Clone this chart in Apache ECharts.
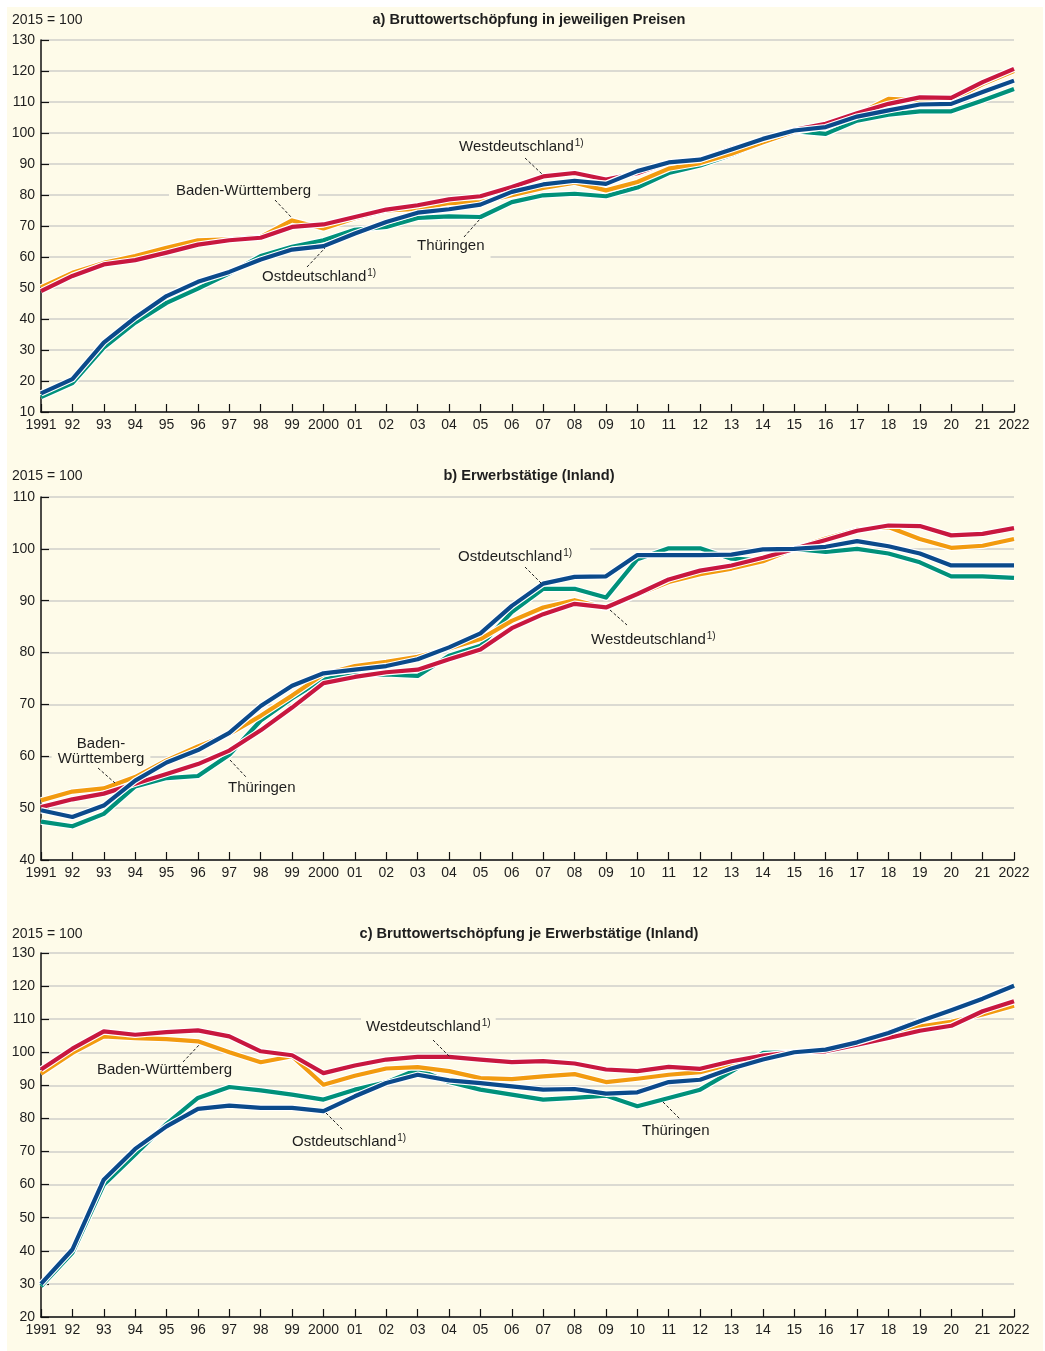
<!DOCTYPE html>
<html>
<head>
<meta charset="utf-8">
<script src="https://cdn.jsdelivr.net/npm/echarts@6/dist/echarts.min.js"></script>
<style>
  html, body { margin: 0; background: #fff; }
  #chart { width: 1045px; height: 1351px; }
</style>
</head>
<body>
<div id="chart"></div>
<script>
// x-axis categories
const years = ["1991", "92", "93", "94", "95", "96", "97", "98", "99", "2000",
  "01", "02", "03", "04", "05", "06", "07", "08", "09", "10",
  "11", "12", "13", "14", "15", "16", "17", "18", "19", "20", "21", "2022"];

// a) Bruttowertschöpfung in jeweiligen Preisen
const westA = [49, 53.9, 57.6, 59, 61.4, 64, 65.4, 66.2, 69.7, 70.5, 72.9, 75.3, 76.7, 78.6, 79.6, 82.6,
  86, 87.1, 85, 87, 90.6, 91.5, 95, 98, 101, 103, 106.4, 109.4, 111.5, 111.3, 116.4, 120.7];
const bwA = [50.2, 54.9, 58.1, 60.3, 63, 65.4, 65.7, 66.5, 71.8, 69.2, 72.5, 75, 75.5, 77.4, 77.7, 79.9,
  82.3, 84, 81.5, 84.2, 88.5, 90.3, 93.3, 97, 100.5, 102, 106, 111, 110.5, 110.5, 115.8, 120];
const ostA = [16, 20.6, 32.4, 40.4, 47.4, 52, 55.2, 59.2, 62.4, 63.5, 67.6, 71.3, 74.3, 75.4, 76.9, 81,
  83.4, 84.6, 83.6, 87.7, 90.5, 91.4, 94.7, 98.1, 100.8, 101.9, 105.3, 107.3, 109.2, 109.4, 113.2, 116.9];
const thuA = [14.8, 19.3, 30.8, 38.8, 45.2, 49.8, 54.7, 60.3, 63.3, 65.4, 68.8, 69.7, 72.6, 73.1, 72.9, 77.7,
  79.9, 80.4, 79.6, 82.4, 87.1, 89.5, 93, 97, 100.6, 99.7, 104, 105.9, 107, 107, 110.5, 114.2];

// b) Erwerbstätige (Inland)
const westB = [50.2, 51.7, 52.8, 54.7, 56.6, 58.5, 61.1, 65, 69.4, 74.1, 75.3, 76.2, 76.7, 78.7, 80.6, 84.7,
  87.4, 89.4, 88.7, 91.3, 94.1, 95.8, 96.8, 98.3, 100, 101.7, 103.5, 104.5, 104.4, 102.6, 102.9, 104];
const bwB = [51.5, 53.2, 53.8, 56, 59.2, 61.9, 64.3, 67.8, 71.7, 75.8, 77.4, 78.2, 79.2, 80.8, 82.6, 86.1,
  88.7, 90.1, 88.6, 91.2, 93.6, 95.1, 96.2, 97.6, 100, 102, 103.7, 104.2, 101.9, 100.2, 100.6, 101.9];
const ostB = [49.6, 48.3, 50.5, 55.3, 58.8, 61.2, 64.5, 69.7, 73.6, 76, 76.7, 77.4, 78.7, 81, 83.7, 89,
  93.3, 94.6, 94.7, 98.8, 98.8, 98.8, 98.9, 99.9, 100, 100.4, 101.5, 100.5, 99.1, 96.8, 96.8, 96.8];
const thuB = [47.4, 46.5, 48.9, 54.2, 55.8, 56.2, 60.3, 66.9, 71.2, 74.9, 75.6, 75.8, 75.5, 79.4, 81.3, 87.8,
  92.3, 92.3, 90.6, 98, 100.1, 100.1, 98.1, 97.8, 100, 99.4, 100, 99.1, 97.4, 94.7, 94.7, 94.4];

// c) Bruttowertschöpfung je Erwerbstätige (Inland)
const westC = [94.8, 101.1, 106.3, 105.3, 106.1, 106.6, 104.8, 100.3, 99.1, 93.7, 96, 97.8, 98.6, 98.6, 97.8, 97,
  97.3, 96.6, 94.8, 94.3, 95.6, 95, 97.3, 99, 100, 100.3, 102.3, 104.3, 106.5, 108, 112.4, 115.4];
const bwC = [93.5, 99.8, 104.8, 104.3, 104, 103.3, 100, 97, 98.8, 90.2, 92.9, 95.1, 95.5, 94.3, 92.2, 91.9,
  92.7, 93.4, 91, 92, 93.2, 94, 96.5, 98.8, 100, 100.5, 102.5, 104.5, 107.8, 109.2, 111.4, 114.1];
const ostC = [30, 40.4, 61.5, 70.8, 77.6, 82.9, 83.9, 83.2, 83.2, 82.2, 86.7, 90.7, 93.2, 91.5, 90.7, 89.7,
  88.7, 88.9, 87.5, 87.9, 91, 91.7, 95.1, 97.8, 100, 100.8, 103, 105.8, 109.4, 112.7, 116.2, 120.1];
const thuC = [29.3, 39.4, 60, 69.1, 78.4, 86.2, 89.5, 88.5, 87.2, 85.7, 88.7, 90.9, 94.8, 91, 88.7, 87.2,
  85.7, 86.2, 86.9, 83.7, 86.2, 88.7, 94.2, 99.8, 100, 100.6, 103, 106, 109.6, 112.8, 116.3, 120.1];

const RED = "#c8173f", BLUE = "#0b4a8b", GREEN = "#00917a", ORANGE = "#f29b0f";
const CREAM = "#fefbe9", TEXT = "#1e1e1e";
const FONT = "Liberation Sans, Arial, sans-serif";

const panels = [
  { top: 40, height: 372, min: 10, max: 130, sets: [thuA, bwA, westA, ostA] },
  { top: 497, height: 363, min: 40, max: 110, sets: [thuB, bwB, westB, ostB] },
  { top: 953, height: 364, min: 20, max: 130, sets: [thuC, bwC, westC, ostC] }
];
const colors = [GREEN, ORANGE, RED, BLUE];

const grid = [], xAxis = [], yAxis = [], series = [];
panels.forEach((p, i) => {
  grid.push({ left: 41, right: 31, top: p.top, height: p.height });
  xAxis.push({
    type: "category", gridIndex: i, data: years, boundaryGap: false,
    axisLine: { lineStyle: { color: "#111", width: 1.5 } },
    axisTick: { inside: true, length: 8, interval: 0, lineStyle: { color: "#111", width: 1.2 } },
    axisLabel: { interval: 0, color: TEXT, fontSize: 14, fontFamily: FONT, margin: 6 },
    splitLine: { show: false }
  });
  yAxis.push({
    type: "value", gridIndex: i, min: p.min, max: p.max, interval: 10,
    axisLine: { show: true, lineStyle: { color: "#111", width: 1.5 } },
    axisTick: { show: true, inside: true, length: 8, lineStyle: { color: "#111", width: 1.2 } },
    axisLabel: { color: TEXT, fontSize: 14, fontFamily: FONT, margin: 6 },
    splitLine: { lineStyle: { color: "#cfcfca", width: 1.6 } }
  });
  p.sets.forEach((vals, k) => {
    // white casing under each coloured line
    series.push({
      type: "line", xAxisIndex: i, yAxisIndex: i, data: vals, symbol: "none", silent: true,
      lineStyle: { color: "#ffffff", width: 6.5, join: "round" }, z: 2
    });
    series.push({
      type: "line", xAxisIndex: i, yAxisIndex: i, data: vals, symbol: "none", silent: true,
      lineStyle: { color: colors[k], width: 4.2, join: "round" }, z: 2
    });
  });
});

function label(x, y, parts, opts) {
  return {
    type: "text", z: 1, silent: true,
    style: Object.assign({
      x: x, y: y, text: parts, textAlign: "left", textVerticalAlign: "middle",
      font: "15px " + FONT, fill: TEXT,
      rich: { s: { fontSize: 10, fill: TEXT, padding: [0, 0, 7, 1], fontFamily: FONT } }
    }, opts || {})
  };
}
function leader(x1, y1, x2, y2) {
  return {
    type: "line", z: 3, silent: true,
    shape: { x1: x1, y1: y1, x2: x2, y2: y2 },
    style: { stroke: "#222", lineWidth: 1, lineDash: [3, 2] }
  };
}
function head(y, title) {
  return [
    { type: "text", silent: true, style: { x: 12, y: y, text: "2015 = 100", textVerticalAlign: "middle", font: "14px " + FONT, fill: TEXT } },
    { type: "text", silent: true, style: { x: 529, y: y, text: title, textAlign: "center", textVerticalAlign: "middle", font: "bold 14.6px " + FONT, fill: TEXT } }
  ];
}
const bg = (pad) => ({ backgroundColor: CREAM, padding: pad });

const graphic = [
  { type: "rect", z: -10, silent: true, shape: { x: 7, y: 7, width: 1036, height: 1344 }, style: { fill: CREAM } },
  ...head(20, "a) Bruttowertschöpfung in jeweiligen Preisen"),
  ...head(476, "b) Erwerbstätige (Inland)"),
  ...head(934, "c) Bruttowertschöpfung je Erwerbstätige (Inland)"),

  // panel a
  label(459, 147, "Westdeutschland{s|1)}"),
  leader(525, 158, 542, 174),
  label(169, 191, "Baden-Württemberg", bg([3, 7])),
  leader(275, 200, 292, 218),
  label(411, 246, "Thüringen", bg([5, 6])),
  leader(464, 237, 480, 219),
  label(262, 277, "Ostdeutschland{s|1)}"),
  leader(307, 267, 325, 248),

  // panel b
  label(440, 557, "Ostdeutschland{s|1)}", bg([3, 18])),
  leader(525, 567, 542, 584),
  label(591, 640, "Westdeutschland{s|1)}"),
  leader(610, 610, 627, 625),
  label(101, 751, "Baden-\nWürttemberg", Object.assign({ textAlign: "center", lineHeight: 15 }, bg([2, 6]))),
  leader(98, 768, 115, 783),
  label(228, 788, "Thüringen"),
  leader(230, 760, 246, 777),

  // panel c
  label(361, 1027, "Westdeutschland{s|1)}", bg([4, 5])),
  leader(433, 1040, 450, 1057),
  label(97, 1070, "Baden-Württemberg"),
  leader(183, 1062, 200, 1044),
  label(292, 1142, "Ostdeutschland{s|1)}"),
  leader(326, 1113, 343, 1130),
  label(642, 1131, "Thüringen"),
  leader(663, 1102, 680, 1119)
];

const chart = echarts.init(document.getElementById("chart"));
chart.setOption({
  animation: false,
  backgroundColor: "#ffffff",
  grid: grid,
  xAxis: xAxis,
  yAxis: yAxis,
  series: series,
  graphic: graphic
});
</script>
</body>
</html>
